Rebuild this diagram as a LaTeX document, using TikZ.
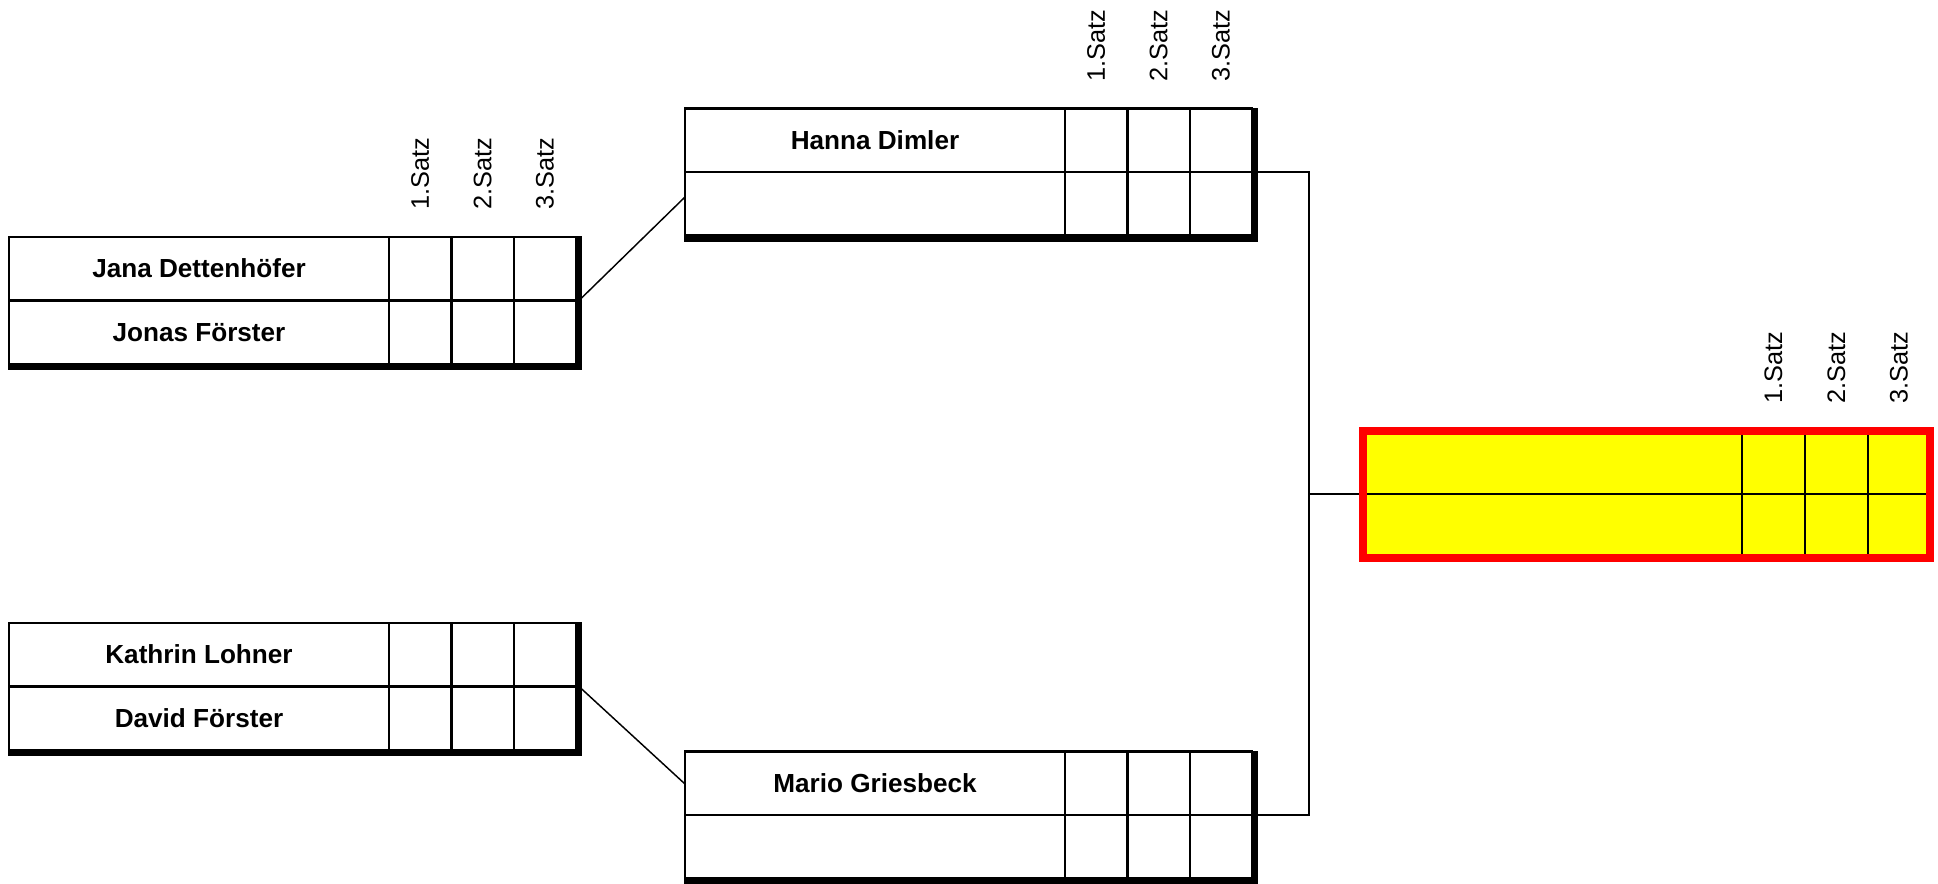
\documentclass[tikz,border=0pt]{standalone}
\usepackage{fontspec}
\setmainfont{Liberation Sans}
\definecolor{finalfill}{RGB}{255,255,0}
\definecolor{finalred}{RGB}{255,0,0}
\newcommand\matchbox[5]{%
\begin{scope}[shift={(#2,#3)}]
 \fill (565.6,-1) rectangle (573,133);
 \fill (-1,125.6) rectangle (573,133);
 \draw[gridline] (0,0) rectangle (567,127);
 \draw[gridline] (0,63.5) -- (567,63.5);
 \draw[gridline] (380,0) -- (380,127) (442.5,0) -- (442.5,127) (505,0) -- (505,127);
 \node[namestyle] (#1-a) at (190,36) {#4};
 \node[namestyle] (#1-b) at (190,99.5) {#5};
 \coordinate (#1-out) at (570,63.5);
 \coordinate (#1-inlow) at (0,88.5);
 \coordinate (#1-inhigh) at (0,32.5);
\end{scope}}
\newcommand\satzlabels[3]{%
\begin{scope}[shift={(#2,#3)}]
 \node[satzstyle] (#1-s1) at (411.25,-27) {1.Satz};
 \node[satzstyle] (#1-s2) at (473.75,-27) {2.Satz};
 \node[satzstyle] (#1-s3) at (536,-27) {3.Satz};
\end{scope}}
\begin{document}
\begin{tikzpicture}[x=0.75pt,y=-0.75pt,
  namestyle/.style={inner sep=0pt, font=\fontsize{19.6}{23}\selectfont\bfseries, text height=0.716em, text depth=0pt},
  satzstyle/.style={inner sep=0pt, rotate=90, anchor=west, font=\fontsize{19}{23}\selectfont},
  gridline/.style={line width=2.1pt},
  diag/.style={line width=1.1pt},
  bracket/.style={line width=2.1pt}]
\useasboundingbox (0,0) rectangle (1938,883);

\matchbox{A}{9}{237}{Jana Dettenhöfer}{Jonas Förster}
\satzlabels{A}{9}{237}
\matchbox{B}{9}{623}{Kathrin Lohner}{David Förster}
\matchbox{C}{685}{108.5}{Hanna Dimler}{}
\satzlabels{C}{685}{108.5}
\matchbox{D}{685}{751.5}{Mario Griesbeck}{}

% final
\begin{scope}[shift={(1363,430.5)}]
 \fill[finalfill] (0,0) rectangle (567,127);
 \draw[gridline] (0,63.5) -- (567,63.5);
 \draw[gridline] (379,0) -- (379,127) (442,0) -- (442,127) (505,0) -- (505,127);
 \draw[finalred, line width=6pt] (0,0) rectangle (567,127);
 \node[satzstyle] (E-s1) at (410.5,-27) {1.Satz};
 \node[satzstyle] (E-s2) at (473.5,-27) {2.Satz};
 \node[satzstyle] (E-s3) at (536,-27) {3.Satz};
 \coordinate (E-in) at (-4,63.5);
\end{scope}

\coordinate (K) at (1309,494);
\draw[diag] (A-out) -- (C-inlow);
\draw[diag] (B-out) -- (D-inhigh);
\draw[bracket] (C-out) -| (K) |- (D-out);
\draw[bracket] (K) -- (E-in);
\end{tikzpicture}
\end{document}
